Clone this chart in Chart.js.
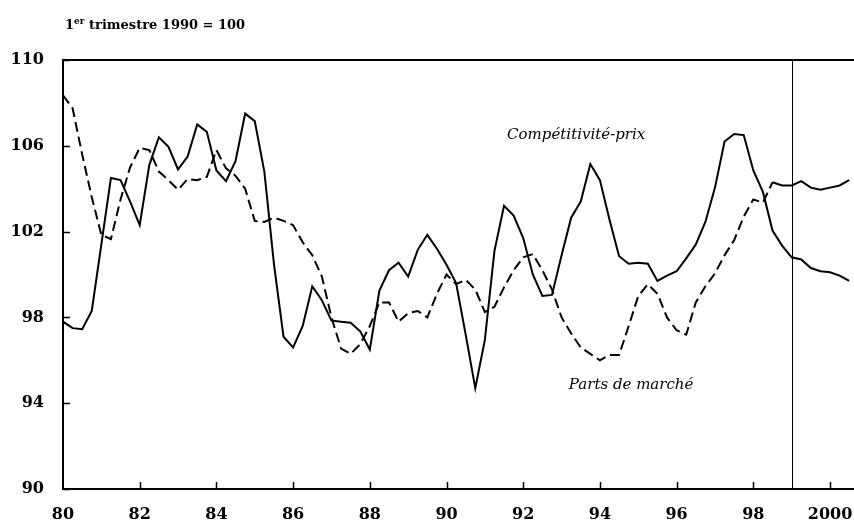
<!DOCTYPE html>
<html>
<head>
<meta charset="utf-8">
<script src="https://cdn.jsdelivr.net/npm/chart.js@4/dist/chart.umd.min.js"></script>
<style>
  body { margin: 0; background: #fff; }
  #wrap { position: relative; width: 854px; height: 531px; }
  #unit { position: absolute; left: 65px; top: 16px; font: bold 13px "DejaVu Serif", serif; color: #000; }
  #unit sup { font-size: 9px; }
</style>
</head>
<body>
<div id="wrap">
  <canvas id="chart" width="854" height="531"></canvas>
  <div id="unit">1<sup>er</sup> trimestre 1990 = 100</div>
</div>
<script>
// quarterly series, 1980 T1 -> 2000 T3
const startYear = 1980;
const compPrix = [
  97.8, 97.5, 97.45, 98.3,
  101.4, 104.5, 104.4, 103.4,
  102.3, 105.1, 106.4, 105.95,
  104.9, 105.5, 107.0, 106.65,
  104.85, 104.35, 105.3, 107.5,
  107.15, 104.8, 100.5, 97.1,
  96.6, 97.6, 99.45, 98.8,
  97.85, 97.8, 97.75, 97.35,
  96.5, 99.25, 100.2, 100.55,
  99.9, 101.15, 101.85, 101.2,
  100.45, 99.6, 97.2, 94.7,
  96.95, 101.1, 103.2, 102.75,
  101.7, 100.0, 99.0, 99.05,
  100.9, 102.65, 103.4, 105.15,
  104.4, 102.55, 100.85, 100.5,
  100.55, 100.5, 99.7, 99.95,
  100.15, 100.75, 101.4, 102.45,
  104.05, 106.2, 106.55, 106.5,
  104.85, 103.85, 102.05, 101.35,
  100.8, 100.7, 100.3, 100.15,
  100.1, 99.95, 99.7
];
const partsMarche = [
  108.35, 107.75, 105.6, 103.6,
  101.85, 101.65, 103.5, 105.0,
  105.9, 105.8, 104.8, 104.4,
  103.95, 104.45, 104.4, 104.55,
  105.8, 104.95, 104.6, 104.0,
  102.5, 102.45, 102.65, 102.5,
  102.3, 101.5, 100.9, 99.9,
  98.0, 96.55, 96.3, 96.75,
  97.6, 98.7, 98.7, 97.8,
  98.2, 98.3, 98.0, 99.1,
  100.0, 99.55, 99.75, 99.3,
  98.25, 98.5, 99.4, 100.2,
  100.8, 100.95, 100.2, 99.3,
  98.0, 97.25, 96.6, 96.3,
  96.0, 96.25, 96.25, 97.6,
  99.0, 99.55, 99.1, 98.0,
  97.4, 97.2, 98.7, 99.45,
  100.05, 100.9, 101.6, 102.7,
  103.5, 103.35, 104.3, 104.15,
  104.15, 104.35, 104.05, 103.95,
  104.05, 104.15, 104.4
];
const xTickValues = [1980, 1982, 1984, 1986, 1988, 1990, 1992, 1994, 1996, 1998, 2000];
const xTickLabels = ['80', '82', '84', '86', '88', '90', '92', '94', '96', '98', '2000'];
const yTickValues = [90, 94, 98, 102, 106, 110];
const markerYear = 1999;
const solidFrom = 1998.5;
const seriesLabels = [
  { text: 'Compétitivité-prix', x: 1991.58, y: 106.5 },
  { text: 'Parts de marché', x: 1993.19, y: 94.85 }
];

const toPoints = arr => arr.map((v, i) => ({ x: startYear + i / 4, y: v }));

const frame = {
  id: 'frame',
  afterDatasetsDraw(chart) {
    const { ctx, chartArea: a, scales: { x, y } } = chart;
    ctx.save();
    ctx.strokeStyle = '#000';
    // top border
    ctx.lineWidth = 2;
    ctx.beginPath();
    ctx.moveTo(a.left - 1, a.top);
    ctx.lineTo(a.right, a.top);
    ctx.stroke();
    // inner ticks
    ctx.lineWidth = 1.5;
    ctx.beginPath();
    yTickValues.forEach(v => {
      const py = Math.round(y.getPixelForValue(v)) + 0.5;
      ctx.moveTo(a.left, py);
      ctx.lineTo(a.left + 7, py);
    });
    xTickValues.slice(1).forEach(v => {
      const px = Math.round(x.getPixelForValue(v)) + 0.5;
      ctx.moveTo(px, a.bottom);
      ctx.lineTo(px, a.bottom - 7);
    });
    ctx.stroke();
    // 1999 marker
    ctx.lineWidth = 1;
    const mx = Math.round(x.getPixelForValue(markerYear)) + 0.5;
    ctx.beginPath();
    ctx.moveTo(mx, a.top);
    ctx.lineTo(mx, a.bottom);
    ctx.stroke();
    // series labels
    ctx.fillStyle = '#000';
    ctx.font = 'italic 15px "DejaVu Serif", serif';
    ctx.textBaseline = 'middle';
    ctx.textAlign = 'left';
    seriesLabels.forEach(l => {
      ctx.fillText(l.text, x.getPixelForValue(l.x), y.getPixelForValue(l.y));
    });
    ctx.restore();
  }
};

Chart.defaults.font.family = '"DejaVu Serif", serif';
Chart.defaults.color = '#000';

new Chart(document.getElementById('chart'), {
  type: 'line',
  data: {
    datasets: [
      {
        label: 'Compétitivité-prix',
        data: toPoints(compPrix),
        borderColor: '#000',
        borderWidth: 2,
        pointRadius: 0,
        tension: 0
      },
      {
        label: 'Parts de marché',
        data: toPoints(partsMarche),
        borderColor: '#000',
        borderWidth: 2,
        pointRadius: 0,
        tension: 0,
        segment: {
          borderDash: c => (c.p0.parsed.x >= solidFrom ? [] : [10, 5])
        }
      }
    ]
  },
  options: {
    responsive: false,
    animation: false,
    layout: { padding: { top: 60, right: 0, left: 0, bottom: 0 } },
    plugins: { legend: { display: false }, tooltip: { enabled: false } },
    scales: {
      x: {
        type: 'linear',
        min: 1980,
        max: 2000.625,
        afterFit: s => { s.height = 42; s.paddingLeft = 0; s.paddingRight = 0; },
        afterBuildTicks: s => { s.ticks = xTickValues.map(v => ({ value: v })); },
        grid: { display: false },
        border: { color: '#000', width: 2 },
        ticks: {
          autoSkip: false,
          maxRotation: 0,
          padding: 8,
          font: { size: 16, weight: 'bold' },
          callback: (v, i) => xTickLabels[i]
        }
      },
      y: {
        min: 90,
        max: 110,
        afterFit: s => { s.width = 63; },
        afterBuildTicks: s => { s.ticks = yTickValues.map(v => ({ value: v })); },
        grid: { display: false },
        border: { color: '#000', width: 2 },
        ticks: {
          padding: 11,
          font: { size: 16, weight: 'bold' }
        }
      }
    }
  },
  plugins: [frame]
});
</script>
</body>
</html>
